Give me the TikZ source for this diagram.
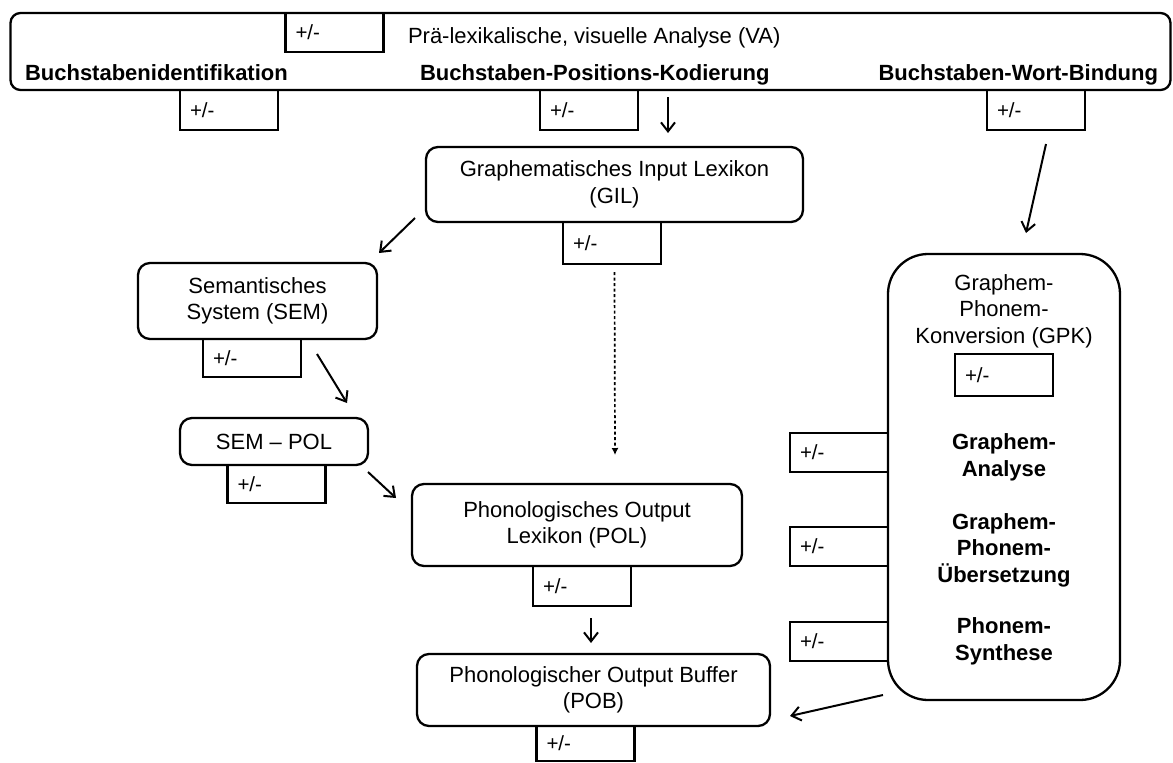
\documentclass[tikz,border=0pt]{standalone}
\usepackage{fontspec}
\setmainfont{Liberation Sans}
\usetikzlibrary{arrows.meta,calc}
\begin{document}
\begin{tikzpicture}[x=1pt,y=-1pt,
  rbox/.style={draw, line width=2.3pt, rounded corners=12pt, inner sep=0pt, outer sep=0pt, align=center, font=\fontsize{22}{26.5}\selectfont},
  pmbox/.style={draw, line width=2.1pt, inner xsep=10pt, inner ysep=0pt, outer sep=0pt, text width=78pt, align=left, minimum height=40pt, font=\fontsize{20.5}{24}\selectfont},
  lbl/.style={inner sep=0pt, outer sep=0pt, font=\fontsize{22}{26.5}\selectfont},
  blbl/.style={inner sep=0pt, outer sep=0pt, font=\fontsize{22}{26.5}\selectfont\bfseries},
  arr/.style={line width=2pt, -{Straight Barb[length=9pt,width=14pt,line width=2pt]}},
  dotarr/.style={line width=1.7pt, dash pattern=on 3pt off 2.5pt, -{Latex[length=7pt,width=7pt]}}
]
\useasboundingbox (0,0) rectangle (1173,763);

% top box
\node[rbox, rounded corners=10pt, minimum width=1160pt, minimum height=77pt] (va) at (590.5,51.5) {};
\node[lbl, anchor=base west] (vat) at (408,43) {Prä-lexikalische, visuelle Analyse (VA)};
\node[blbl, anchor=base west] (bi) at (25,80) {Buchstabenidentifikation};
\node[blbl, anchor=base west] (bp) at (420,80) {Buchstaben-Positions-Kodierung};
\node[blbl, anchor=base east] (bw) at (1158,80) {Buchstaben-Wort-Bindung};
\node[pmbox, minimum height=39pt] (pmva) at (334.5,32.5) {+/-};
\node[pmbox] (pm1) at (229,110) {+/-};
\node[pmbox] (pm2) at (589,110) {+/-};
\node[pmbox] (pm3) at (1036,110) {+/-};

% lexicon route
\node[rbox, minimum width=377pt, minimum height=75pt] (gil) at (614.5,184.5) {Graphematisches Input Lexikon\\(GIL)};
\node[pmbox, minimum height=42pt] (pmgil) at (612,243) {+/-};

\node[rbox, minimum width=239pt, minimum height=76pt] (sem) at (257.5,301) {Semantisches\\System (SEM)};
\node[pmbox, minimum height=38pt] (pmsem) at (252,358) {+/-};

\node[rbox, minimum width=188pt, minimum height=47pt] (sempol) at (274,441.5) {SEM – POL};
\node[pmbox, minimum height=38pt] (pmsp) at (276.5,484) {+/-};

\node[rbox, minimum width=330pt, minimum height=82pt] (pol) at (577,525) {Phonologisches Output\\Lexikon (POL)};
\node[pmbox] (pmpol) at (582,586) {+/-};

\node[rbox, minimum width=353pt, minimum height=72pt] (pob) at (593.5,690) {Phonologischer Output Buffer\\(POB)};
\node[pmbox, minimum height=35pt] (pmpob) at (585.5,743.5) {+/-};

% GPK
\node[rbox, rounded corners=40pt, minimum width=232pt, minimum height=446pt] (gpk) at (1004,477) {};
\node[lbl, align=center] (gpkt) at (1004,311) {Graphem-\\Phonem-\\Konversion (GPK)};
\node[pmbox, minimum height=42pt] (pmgpk) at (1004,375) {+/-};
\node[blbl, align=center] (ga) at (1004,457.5) {Graphem-\\Analyse};
\node[blbl, align=center] (gpu) at (1004,550) {Graphem-\\Phonem-\\Übersetzung};
\node[blbl, align=center] (ps) at (1004,641.5) {Phonem-\\Synthese};
\node[pmbox, minimum height=39pt] (pmga) at (839,452.5) {+/-};
\node[pmbox, minimum height=39pt] (pmgpu) at (839,546.5) {+/-};
\node[pmbox, minimum height=39pt] (pmps) at (839,641.5) {+/-};

% connectors
\draw[arr] ($(va.south)+(77.5,7)$) -- ($(gil.north)+(53.5,-14)$);
\draw[arr] ($(pm3.south)+(10,14)$) -- ($(gpk.north)+(22,-21)$);
\draw[arr] ($(gil.south west)+(-11,-4)$) -- ($(sem.north east)+(2,-10)$);
\draw[arr] ($(pmsem.east)+(16,-4)$) -- ($(sempol.north east)+(-21,-15)$);
\draw[arr] ($(sempol.south east)+(0,7)$) -- ($(pol.north west)+(-16,14)$);
\draw[dotarr] ($(gil.south)+(0,50)$) -- ($(pol.north)+(38,-29)$);
\draw[arr] ($(pmpol.south)+(9,12)$) -- ($(pob.north)+(-2.5,-11)$);
\draw[arr] ($(gpk.south west)+(-5,-5)$) -- ($(pob.east)+(20,26)$);
\end{tikzpicture}
\end{document}
